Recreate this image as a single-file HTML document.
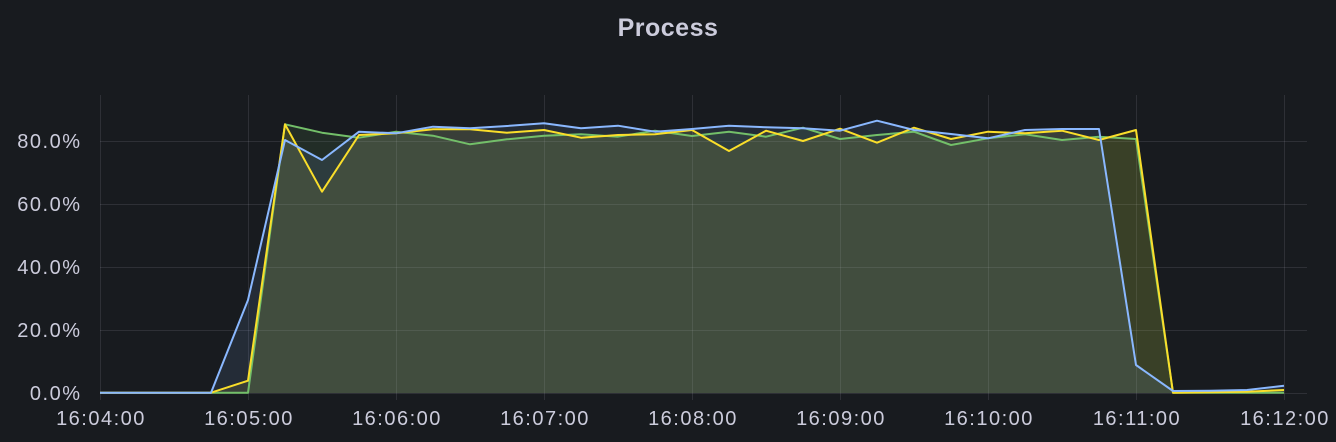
<!DOCTYPE html>
<html><head><meta charset="utf-8"><style>
html,body{margin:0;padding:0;background:#181b1f;}
svg{display:block;font-family:"Liberation Sans",sans-serif;}
</style></head><body>
<svg id="s" width="1336" height="442" viewBox="0 0 1336 442">
<rect width="1336" height="442" fill="#181b1f"/>
<text x="668" y="36" text-anchor="middle" font-size="25" font-weight="bold" letter-spacing="0.5" fill="#ccccdc">Process</text>
<g id="grid" stroke="rgba(204,204,220,0.12)" stroke-width="1"></g>
<g id="areas"></g>
<g id="lines" fill="none" stroke-width="2" stroke-linejoin="round"></g>
<g id="labels" font-size="20" letter-spacing="1.5" fill="#ccccdc"></g>
</svg>
<script>
var NS="http://www.w3.org/2000/svg";
function el(t,a,p,txt){var e=document.createElementNS(NS,t);for(var k in a)e.setAttribute(k,a[k]);if(txt!==undefined)e.textContent=txt;document.getElementById(p).appendChild(e);return e;}
var yv=[393,330,267,204,141],yl=["0.0%","20.0%","40.0%","60.0%","80.0%"];
for(var i=0;i<5;i++){el("line",{x1:100,x2:1307,y1:yv[i]+0.5,y2:yv[i]+0.5},"grid");el("text",{x:81.5,y:yv[i]+7,"text-anchor":"end"},"labels",yl[i]);}
var xl=["16:04:00","16:05:00","16:06:00","16:07:00","16:08:00","16:09:00","16:10:00","16:11:00","16:12:00"];
for(var i=0;i<9;i++){var x=100+148*i;el("line",{x1:x+0.5,x2:x+0.5,y1:95,y2:400},"grid");el("text",{x:x+1,y:425,"text-anchor":"middle"},"labels",xl[i]);}
var blue=[908,908,908,908,630,150,210,125,130,110,115,108,100,115,107,125,117,107,112,115,122,92,120,132,145,120,117,117,825,903,902,900,887];
var yel=[908,908,908,908,872,103,305,135,130,118,118,128,120,143,135,133,120,183,122,153,116,158,113,147,125,130,122,150,120,908,907,905,900];
var grn=[908,908,908,908,908,103,128,143,125,137,163,148,137,133,140,122,138,125,140,113,147,135,125,165,145,133,150,140,147,908,908,908,908];
function draw(d,c){var pts=[];for(var i=0;i<d.length;i++){pts.push((100+37*i)+","+(d[i]/3+90).toFixed(1));}
var p="M"+pts.join(" L");
el("path",{d:p+" L1284,393 L100,393 Z",fill:c,"fill-opacity":"0.11"},"areas");
el("path",{d:p,stroke:c},"lines");}
draw(grn,"#73BF69");draw(yel,"#FADE2A");draw(blue,"#8AB8FF");
</script>
</body></html>
